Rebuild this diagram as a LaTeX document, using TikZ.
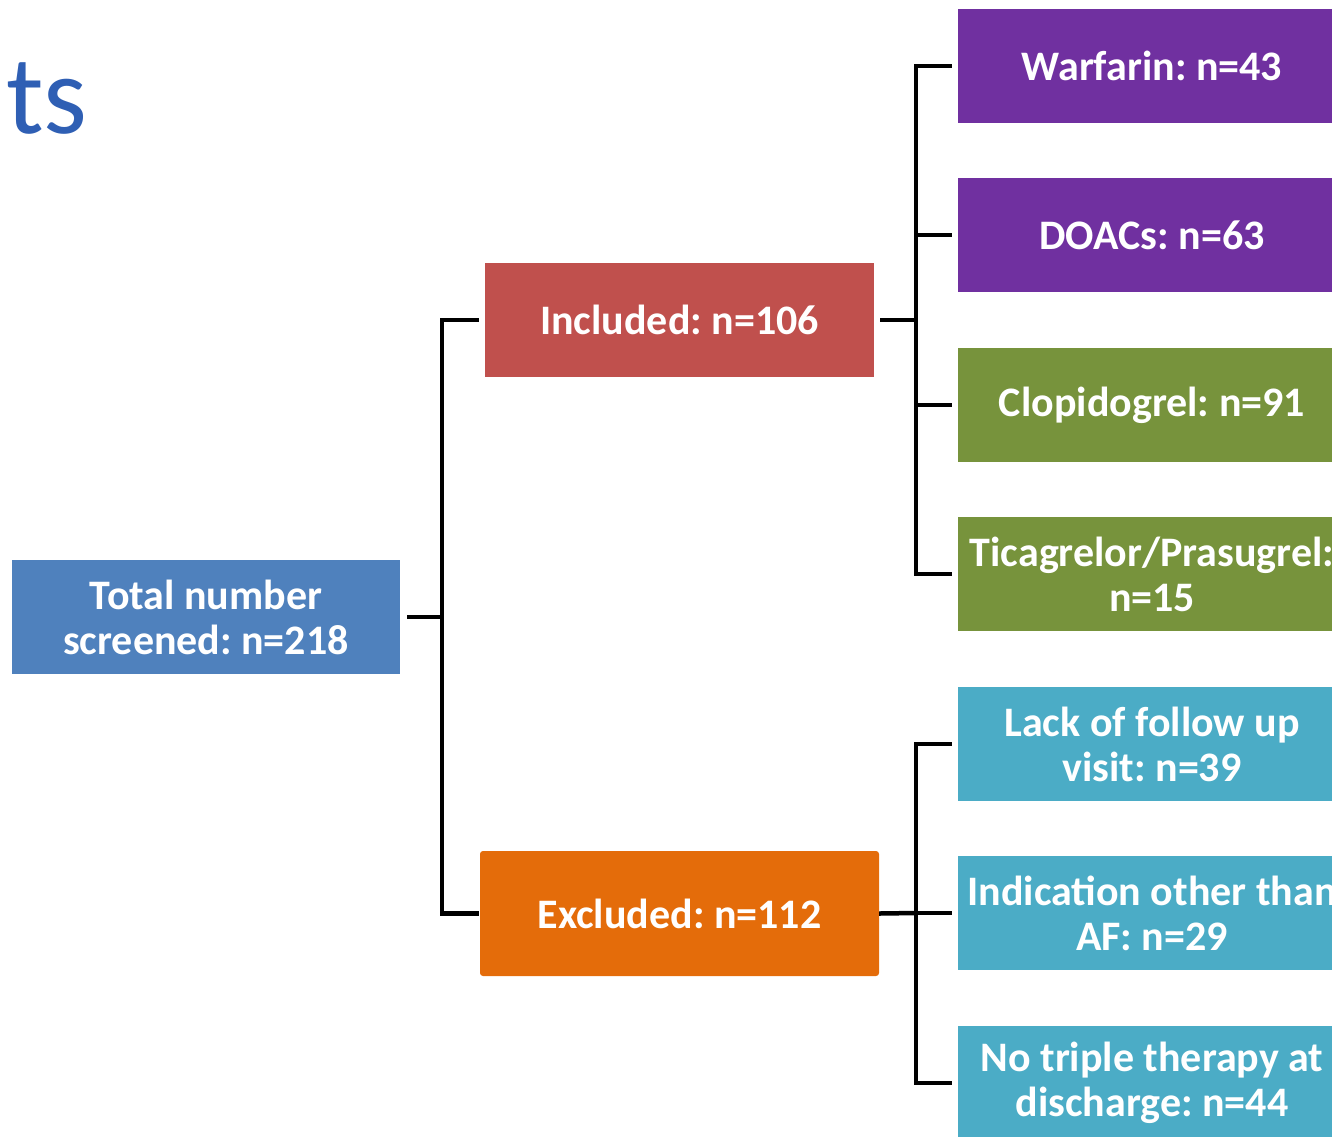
\documentclass[tikz,border=0pt]{standalone}
\usepackage{fontspec}
\setmainfont{Carlito}
\frenchspacing
\definecolor{cTotal}{RGB}{79,129,189}
\definecolor{cIncl}{RGB}{192,80,77}
\definecolor{cExcl}{RGB}{228,108,10}
\definecolor{cPurp}{RGB}{112,48,160}
\definecolor{cGreen}{RGB}{119,147,60}
\definecolor{cTeal}{RGB}{75,172,198}
\definecolor{cTitle}{RGB}{47,95,180}
\begin{document}
\begin{tikzpicture}[x=1pt,y=1pt,
  box/.style={draw=none,inner sep=0pt,align=center,text=white,
    font=\fontsize{42}{45}\selectfont\bfseries},
  leaf/.style={box,minimum width=388pt,minimum height=114pt},
  conn/.style={draw=black,line width=4.5pt,line join=miter}]
\useasboundingbox (0,0) rectangle (1332,-1136);
\node[anchor=base west,inner sep=0pt,text=cTitle,font=\fontsize{112}{112}\selectfont] (title) at (6,-133) {ts};
\node[box,fill=cTotal,minimum width=388pt,minimum height=114pt] (total) at (206,-617) {Total number\\screened: n=218};
\node[box,fill=cIncl,minimum width=389pt,minimum height=114pt] (incl) at (679.5,-320) {Included: n=106};
\node[box,fill=cExcl,rounded corners=3pt,minimum width=399pt,minimum height=125pt] (excl) at (679.5,-913.5) {Excluded: n=112};
\node[leaf,fill=cPurp] (warf) at (1152,-66) {Warfarin: n=43};
\node[leaf,fill=cPurp] (doac) at (1152,-235) {DOACs: n=63};
\node[leaf,fill=cGreen] (clop) at (1152,-405) {Clopidogrel: n=91};
\node[leaf,fill=cGreen] (tica) at (1152,-574) {Ticagrelor/Prasugrel:\\n=15};
\node[leaf,fill=cTeal] (lack) at (1152,-744) {Lack of follow up\\visit: n=39};
\node[leaf,fill=cTeal] (indi) at (1152,-913) {Indication other than\\AF: n=29};
\node[leaf,fill=cTeal] (notr) at (1152,-1083) {No triple therapy at\\discharge: n=44};
\coordinate (j1) at (442,-617);
\coordinate (j2) at (916,-320);
\coordinate (j3) at (916,-913);
\draw[conn] ([xshift=7pt]total.east) -- (j1);
\draw[conn] ([xshift=-6pt]incl.west) -| (j1) |- ([xshift=-1pt]excl.west);
\draw[conn] ([xshift=6pt]incl.east) -- (j2);
\draw[conn] ([xshift=-6pt]warf.west) -| (j2) |- ([xshift=-6pt]tica.west);
\draw[conn] ([xshift=-6pt]doac.west) -- (doac.west -| j2);
\draw[conn] ([xshift=-6pt]clop.west) -- (clop.west -| j2);
\draw[conn] (excl.east) -- (j3);
\draw[conn] ([xshift=-6pt]lack.west) -| (j3) |- ([xshift=-6pt]notr.west);
\draw[conn] ([xshift=-6pt]indi.west) -- (indi.west -| j3);
\end{tikzpicture}
\end{document}
